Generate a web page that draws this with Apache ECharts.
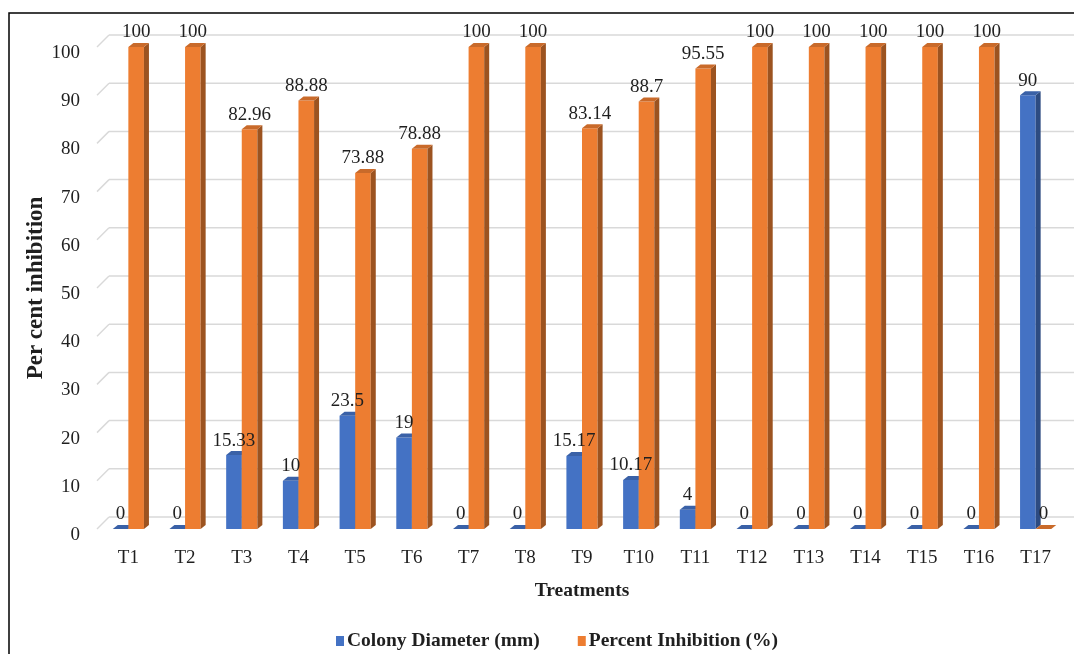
<!DOCTYPE html>
<html>
<head>
<meta charset="utf-8">
<title>Colony diameter and percent inhibition by treatment</title>
<script src="https://cdn.jsdelivr.net/npm/echarts@6/dist/echarts.min.js"></script>
<style>
  html, body { margin: 0; padding: 0; background: #fff; }
  #chart { width: 1074px; height: 654px; }
</style>
</head>
<body>
<div id="chart"></div>
<script>
// Treatments on the category axis
const treatments = ['T1','T2','T3','T4','T5','T6','T7','T8','T9','T10','T11','T12','T13','T14','T15','T16','T17'];
// Colony diameter (mm) per treatment
const colonyDiameter = [0, 0, 15.33, 10, 23.5, 19, 0, 0, 15.17, 10.17, 4, 0, 0, 0, 0, 0, 90];
// Percent inhibition (%) per treatment
const percentInhibition = [100, 100, 82.96, 88.88, 73.88, 78.88, 100, 100, 83.14, 88.7, 95.55, 100, 100, 100, 100, 100, 0];
// Value-axis ticks
const yTicks = [0, 10, 20, 30, 40, 50, 60, 70, 80, 90, 100];

const FONT = '"Liberation Serif", "Times New Roman", serif';
const TEXT = '#1f1f1f';
const BLUE = '#4472c4';
const ORANGE = '#ed7d31';

// 3D-look geometry: depth of each column and offset of the back wall
const DEPTH_X = 5, DEPTH_Y = 4;
const WALL_X = 12, WALL_Y = 12;
const BAR_SHARE = 0.275;

function shade(hex, f) {
  const n = parseInt(hex.slice(1), 16);
  const r = Math.round(((n >> 16) & 255) * f);
  const g = Math.round(((n >> 8) & 255) * f);
  const b = Math.round((n & 255) * f);
  return 'rgb(' + r + ',' + g + ',' + b + ')';
}

// Horizontal extent of one column of a pair (slot 0 = left, slot 1 = right)
function columnBox(api, slot) {
  const idx = api.value(0);
  const val = api.value(1);
  const top = api.coord([idx, val]);
  const base = api.coord([idx, 0]);
  const w = api.size([1, 0])[0] * BAR_SHARE;
  const x0 = top[0] + (slot === 0 ? -w : 0);
  return { val: val, x0: x0, x1: x0 + w, w: w, yT: top[1], yB: base[1] };
}

// Draws one column as a front face, a darker side and a lighter-dark top
function makeColumnRenderer(slot, color) {
  return function (params, api) {
    const b = columnBox(api, slot);
    const children = [];
    if (b.yB - b.yT > 0.5) {
      children.push({
        type: 'rect',
        shape: { x: b.x0, y: b.yT, width: b.w, height: b.yB - b.yT },
        style: { fill: color }
      });
      children.push({
        type: 'polygon',
        shape: { points: [[b.x1, b.yT], [b.x1 + DEPTH_X, b.yT - DEPTH_Y], [b.x1 + DEPTH_X, b.yB - DEPTH_Y], [b.x1, b.yB]] },
        style: { fill: shade(color, 0.66) }
      });
    }
    children.push({
      type: 'polygon',
      shape: { points: [[b.x0, b.yT], [b.x0 + DEPTH_X, b.yT - DEPTH_Y], [b.x1 + DEPTH_X, b.yT - DEPTH_Y], [b.x1, b.yT]] },
      style: { fill: shade(color, 0.85) }
    });
    return { type: 'group', children: children };
  };
}

// Value labels sit above every column, on top of all bars
function makeLabelRenderer(slot) {
  return function (params, api) {
    const b = columnBox(api, slot);
    return {
      type: 'text',
      style: {
        text: String(b.val),
        x: (b.x0 + b.x1) / 2,
        y: b.yT - DEPTH_Y - 1,
        align: 'center',
        verticalAlign: 'bottom',
        font: '19px ' + FONT,
        fill: TEXT
      }
    };
  };
}

// Gridlines on the back wall, joined to the front by a short slanted stroke
function renderGridline(params, api) {
  const v = api.value(1);
  const p = api.coord([0, v]);
  const cs = params.coordSys;
  const y = p[1];
  const xl = cs.x - 3;
  const style = { stroke: '#d9d9d9', lineWidth: 1.5, fill: null };
  return {
    type: 'group',
    children: [
      { type: 'line', shape: { x1: xl, y1: y, x2: xl + WALL_X, y2: y - WALL_Y }, style: style },
      { type: 'line', shape: { x1: xl + WALL_X, y1: y - WALL_Y, x2: cs.x + cs.width + 60, y2: y - WALL_Y }, style: style }
    ]
  };
}

const chart = echarts.init(document.getElementById('chart'), null, { renderer: 'canvas' });

const colonyData = colonyDiameter.map((v, i) => [i, v]);
const inhibitionData = percentInhibition.map((v, i) => [i, v]);

chart.setOption({
  backgroundColor: '#ffffff',
  animation: false,
  graphic: [{
    type: 'rect',
    shape: { x: 9, y: 13, width: 1200, height: 800 },
    style: { fill: null, stroke: '#000', lineWidth: 1.5 },
    z: 100
  }],
  grid: { left: 100, right: 10, top: 47, bottom: 125 },
  legend: {
    left: 331,
    top: 626,
    icon: 'rect',
    itemWidth: 8,
    itemHeight: 10,
    itemGap: 38,
    textStyle: { fontFamily: FONT, fontWeight: 'bold', fontSize: 19.5, color: TEXT, padding: [0, 0, 0, -2] },
    data: ['Colony Diameter (mm)', 'Percent Inhibition (%)']
  },
  xAxis: {
    type: 'category',
    data: treatments,
    axisLine: { show: false },
    axisTick: { show: false },
    axisLabel: { fontFamily: FONT, fontSize: 19, color: TEXT, margin: 20 },
    name: 'Treatments',
    nameLocation: 'middle',
    nameGap: 52,
    nameMoveOverlap: false,
    nameTextStyle: { fontFamily: FONT, fontWeight: 'bold', fontSize: 19.5, color: TEXT }
  },
  yAxis: {
    type: 'value',
    min: 0,
    max: 100,
    interval: 10,
    axisLine: { show: false },
    axisTick: { show: false },
    splitLine: { show: false },
    axisLabel: { fontFamily: FONT, fontSize: 19, color: TEXT, margin: 20, verticalAlign: 'top', lineHeight: 12 },
    name: 'Per cent inhibition',
    nameLocation: 'middle',
    nameGap: 52,
    nameMoveOverlap: false,
    nameTextStyle: { fontFamily: FONT, fontWeight: 'bold', fontSize: 23, color: TEXT }
  },
  series: [
    {
      name: 'gridlines',
      type: 'custom',
      renderItem: renderGridline,
      data: yTicks.map(v => [0, v]),
      encode: { x: 0, y: 1 },
      clip: false,
      silent: true,
      z: 1
    },
    {
      name: 'Colony Diameter (mm)',
      type: 'custom',
      renderItem: makeColumnRenderer(0, BLUE),
      itemStyle: { color: BLUE },
      data: colonyData,
      encode: { x: 0, y: 1 },
      clip: false,
      z: 2
    },
    {
      name: 'Percent Inhibition (%)',
      type: 'custom',
      renderItem: makeColumnRenderer(1, ORANGE),
      itemStyle: { color: ORANGE },
      data: inhibitionData,
      encode: { x: 0, y: 1 },
      clip: false,
      z: 3
    },
    {
      name: 'colony labels',
      type: 'custom',
      renderItem: makeLabelRenderer(0),
      data: colonyData,
      encode: { x: 0, y: 1 },
      clip: false,
      silent: true,
      z: 10
    },
    {
      name: 'inhibition labels',
      type: 'custom',
      renderItem: makeLabelRenderer(1),
      data: inhibitionData,
      encode: { x: 0, y: 1 },
      clip: false,
      silent: true,
      z: 10
    }
  ]
});
</script>
</body>
</html>
